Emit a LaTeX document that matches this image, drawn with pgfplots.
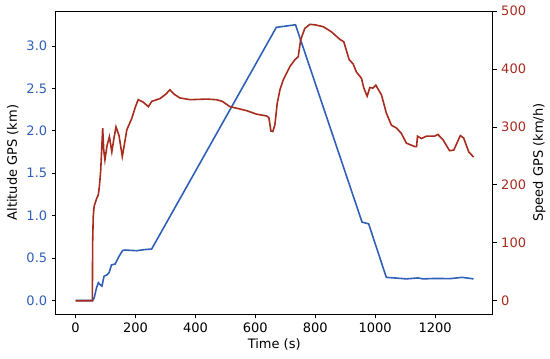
\documentclass[border=0pt]{standalone}
\usepackage{pgfplots}
\pgfplotsset{compat=1.18}
\usepackage{fontspec}
\setmainfont{DejaVu Sans}
\definecolor{altblue}{RGB}{48,96,184}
\definecolor{spdred}{RGB}{168,44,30}
\begin{document}
\fontsize{13}{15}\selectfont
\begin{tikzpicture}
\pgfplotsset{
  common/.style={
    scale only axis, width=437pt, height=303.3pt,
    at={(0,0)}, anchor=south west,
    xmin=-66.3, xmax=1392,
    tick align=outside, major tick length=4pt,
    every tick/.style={black, line width=0.8pt},
    axis line style={line width=0.8pt},
    /pgf/number format/assume math mode=true,
    /pgf/number format/1000 sep={},
    tick label style={font=\fontsize{13}{15}\selectfont},
    label style={font=\fontsize{13}{15}\selectfont},
  }
}
\begin{axis}[common,
  ymin=-0.1625, ymax=3.4125,
  xtick={0,200,400,600,800,1000,1200},
  ytick={0,0.5,1,1.5,2,2.5,3},
  yticklabel style={text=altblue, /pgf/number format/fixed, /pgf/number format/fixed zerofill, /pgf/number format/precision=1},
  xtick pos=bottom, ytick pos=left,
  xlabel={Time (s)}, ylabel={Altitude GPS (km)},
  xlabel style={yshift=3pt},
  ylabel style={yshift=-1pt},
]
\addplot[altblue, line width=1.6pt] coordinates {
(0,0) (57,0) (62,0.03) (70,0.15) (76,0.21) (84,0.18) (88,0.17) (95,0.285) (106,0.305) (112,0.33) (120,0.42) (132,0.43) (145,0.52) (157,0.59) (165,0.595) (204,0.587) (230,0.60) (254,0.607) (670,3.22) (734,3.25) (956,0.924) (978,0.904) (1037,0.273) (1065,0.266) (1104,0.255) (1143,0.266) (1159,0.255) (1200,0.26) (1250,0.258) (1290,0.273) (1328,0.255)
};
\end{axis}
\begin{axis}[common,
  ymin=-23.3, ymax=500,
  axis x line=none,
  axis y line*=right,
  ytick={0,100,200,300,400,500},
  yticklabel style={text=spdred},
  ylabel={Speed GPS (km/h)},
  ylabel style={yshift=2pt},
]
\addplot[spdred, line width=1.6pt] coordinates {
(0,0) (56,0) (57,100) (59,146) (62,163) (70,176) (76,183) (80,200) (84,226) (90.5,298) (94,260) (98,243) (105,268) (113,283) (121,257) (128,280) (135,300) (145,285) (156,249) (163,270) (171,295) (187,314) (200,335) (209,347) (225,343) (243,335) (254,344) (282,349) (300,356) (315,364) (330,356) (348,350) (382,347) (437,348) (470,347) (490,344) (515,335) (540,332) (571,328) (604,322) (637,319) (645,316) (652,293) (658,292) (665,303) (673,341) (682,364) (693,381) (715,404) (732,416) (743,421) (751,450) (765,470) (782,477) (800,476) (826,473) (854,464) (882,451) (895,447) (913,416) (926,409) (937,395) (954,384) (962,367) (973,353) (982,368) (992,367) (1002,372) (1021,355) (1037,324) (1054,303) (1071,298) (1087,289) (1104,272) (1132,266) (1138,266) (1141,284) (1154,280) (1171,284) (1198,284) (1209,287) (1226,278) (1248,259) (1262,260) (1284,285) (1295,281) (1312,257) (1328,248)
};
\end{axis}
\pgfresetboundingbox
\useasboundingbox (-55.7pt,-44.7pt) rectangle (494.3pt,314.3pt);
\end{tikzpicture}
\end{document}
